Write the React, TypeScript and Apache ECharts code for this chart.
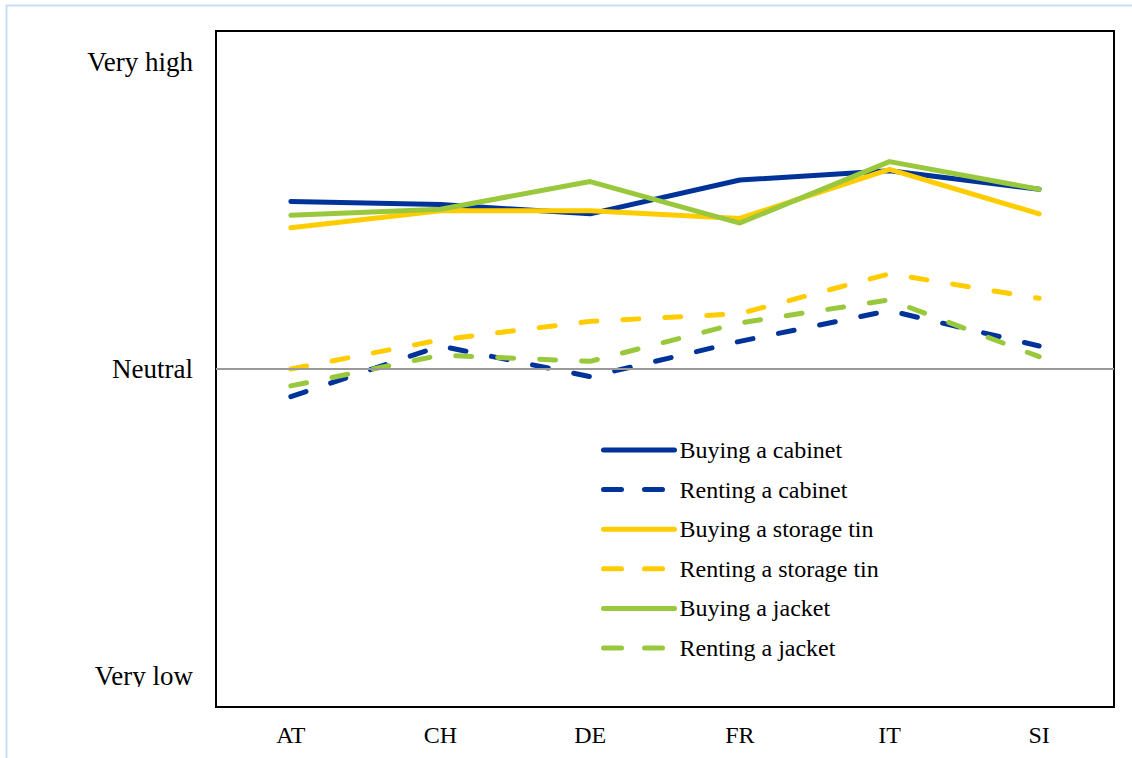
import React, { useEffect, useRef } from "react";
import * as echarts from "echarts";

const categories = ["AT", "CH", "DE", "FR", "IT", "SI"];
const buyingCabinet = [1.09, 1.07, 1.01, 1.23, 1.29, 1.17];
const rentingCabinet = [-0.18, 0.15, -0.05, 0.18, 0.38, 0.15];
const buyingTin = [0.92, 1.03, 1.03, 0.98, 1.3, 1.01];
const rentingTin = [0.0, 0.19, 0.31, 0.36, 0.62, 0.46];
const buyingJacket = [1.0, 1.04, 1.22, 0.95, 1.35, 1.17];
const rentingJacket = [-0.11, 0.09, 0.05, 0.3, 0.45, 0.08];
const yTickValues = [-2, 0, 2];
const yTickLabels = ["Very low", "Neutral", "Very high"];
const seriesNames = [
  "Buying a cabinet",
  "Renting a cabinet",
  "Buying a storage tin",
  "Renting a storage tin",
  "Buying a jacket",
  "Renting a jacket",
];

const BLUE = "#003399";
const YELLOW = "#FFCC00";
const GREEN = "#99C83C";
const FONT = "'Liberation Serif', 'Times New Roman', serif";

export default function App() {
  const ref = useRef<HTMLDivElement>(null);
  useEffect(() => {
    if (!ref.current) return;
    const chart = echarts.init(ref.current, undefined, { renderer: "svg" });
    const colors = [BLUE, BLUE, YELLOW, YELLOW, GREEN, GREEN];
    const dashedFlags = [false, true, false, true, false, true];
    const datas = [buyingCabinet, rentingCabinet, buyingTin, rentingTin, buyingJacket, rentingJacket];
    const series = seriesNames.map((name, i) => {
      const s: any = {
        name,
        type: "line",
        data: datas[i],
        symbol: "none",
        lineStyle: {
          color: colors[i],
          width: 5,
          type: dashedFlags[i] ? [16, 26] : "solid",
          cap: "round",
          join: "round",
        },
        itemStyle: { color: colors[i] },
      };
      if (i === 0) {
        s.markLine = {
          silent: true,
          symbol: ["none", "none"],
          label: { show: false },
          lineStyle: { color: "#999999", width: 2, type: "solid" },
          data: [{ yAxis: 0 }],
        };
      }
      return s;
    });
    chart.setOption({
      animation: false,
      backgroundColor: "#ffffff",
      textStyle: { fontFamily: FONT },
      grid: {
        left: 216,
        top: 31,
        right: 18,
        bottom: 51,
        show: true,
        borderColor: "#000000",
        borderWidth: 2,
        backgroundColor: "transparent",
      },
      xAxis: {
        type: "category",
        data: categories,
        boundaryGap: true,
        axisLine: { show: false },
        axisTick: { show: false },
        splitLine: { show: false },
        axisLabel: { color: "#000", fontSize: 24, fontFamily: FONT, margin: 16 },
      },
      yAxis: {
        type: "value",
        min: -2.2,
        max: 2.2,
        axisLine: { show: false },
        axisTick: { show: false },
        splitLine: { show: false },
        axisLabel: {
          customValues: yTickValues,
          color: "#000",
          fontSize: 27,
          fontFamily: FONT,
          margin: 23,
          padding: [6, 0, 0, 0],
          formatter: (v: number) => {
            const i = yTickValues.indexOf(Math.round(v));
            return i >= 0 ? yTickLabels[i] : "";
          },
        },
      },
      legend: {
        orient: "vertical",
        left: 601,
        top: 438,
        padding: 0,
        itemWidth: 71,
        itemHeight: 20,
        itemGap: 15.6,
        textStyle: { color: "#000", fontSize: 24, fontFamily: FONT },
        data: seriesNames.map((name, i) => ({
          name,
          itemStyle: { opacity: 0 },
          lineStyle: {
            color: colors[i],
            width: 5,
            type: dashedFlags[i] ? [18, 23] : "solid",
            cap: "round",
          },
        })),
      },
      graphic: [
        {
          type: "rect",
          z: 100,
          shape: { x: 6.5, y: 5.5, width: 1200, height: 800 },
          style: { fill: "none", stroke: "#cbdaf6", lineWidth: 2 },
          silent: true,
        },
        {
          type: "rect",
          z: 100,
          shape: { x: 60, y: 687, width: 150, height: 14 },
          style: { fill: "#ffffff" },
          silent: true,
        },
      ],
      series,
    });
    return () => chart.dispose();
  }, []);
  return (
    <div
      ref={ref}
      style={{ position: "fixed", left: 0, top: 0, width: 1132, height: 758, background: "#fff" }}
    />
  );
}
